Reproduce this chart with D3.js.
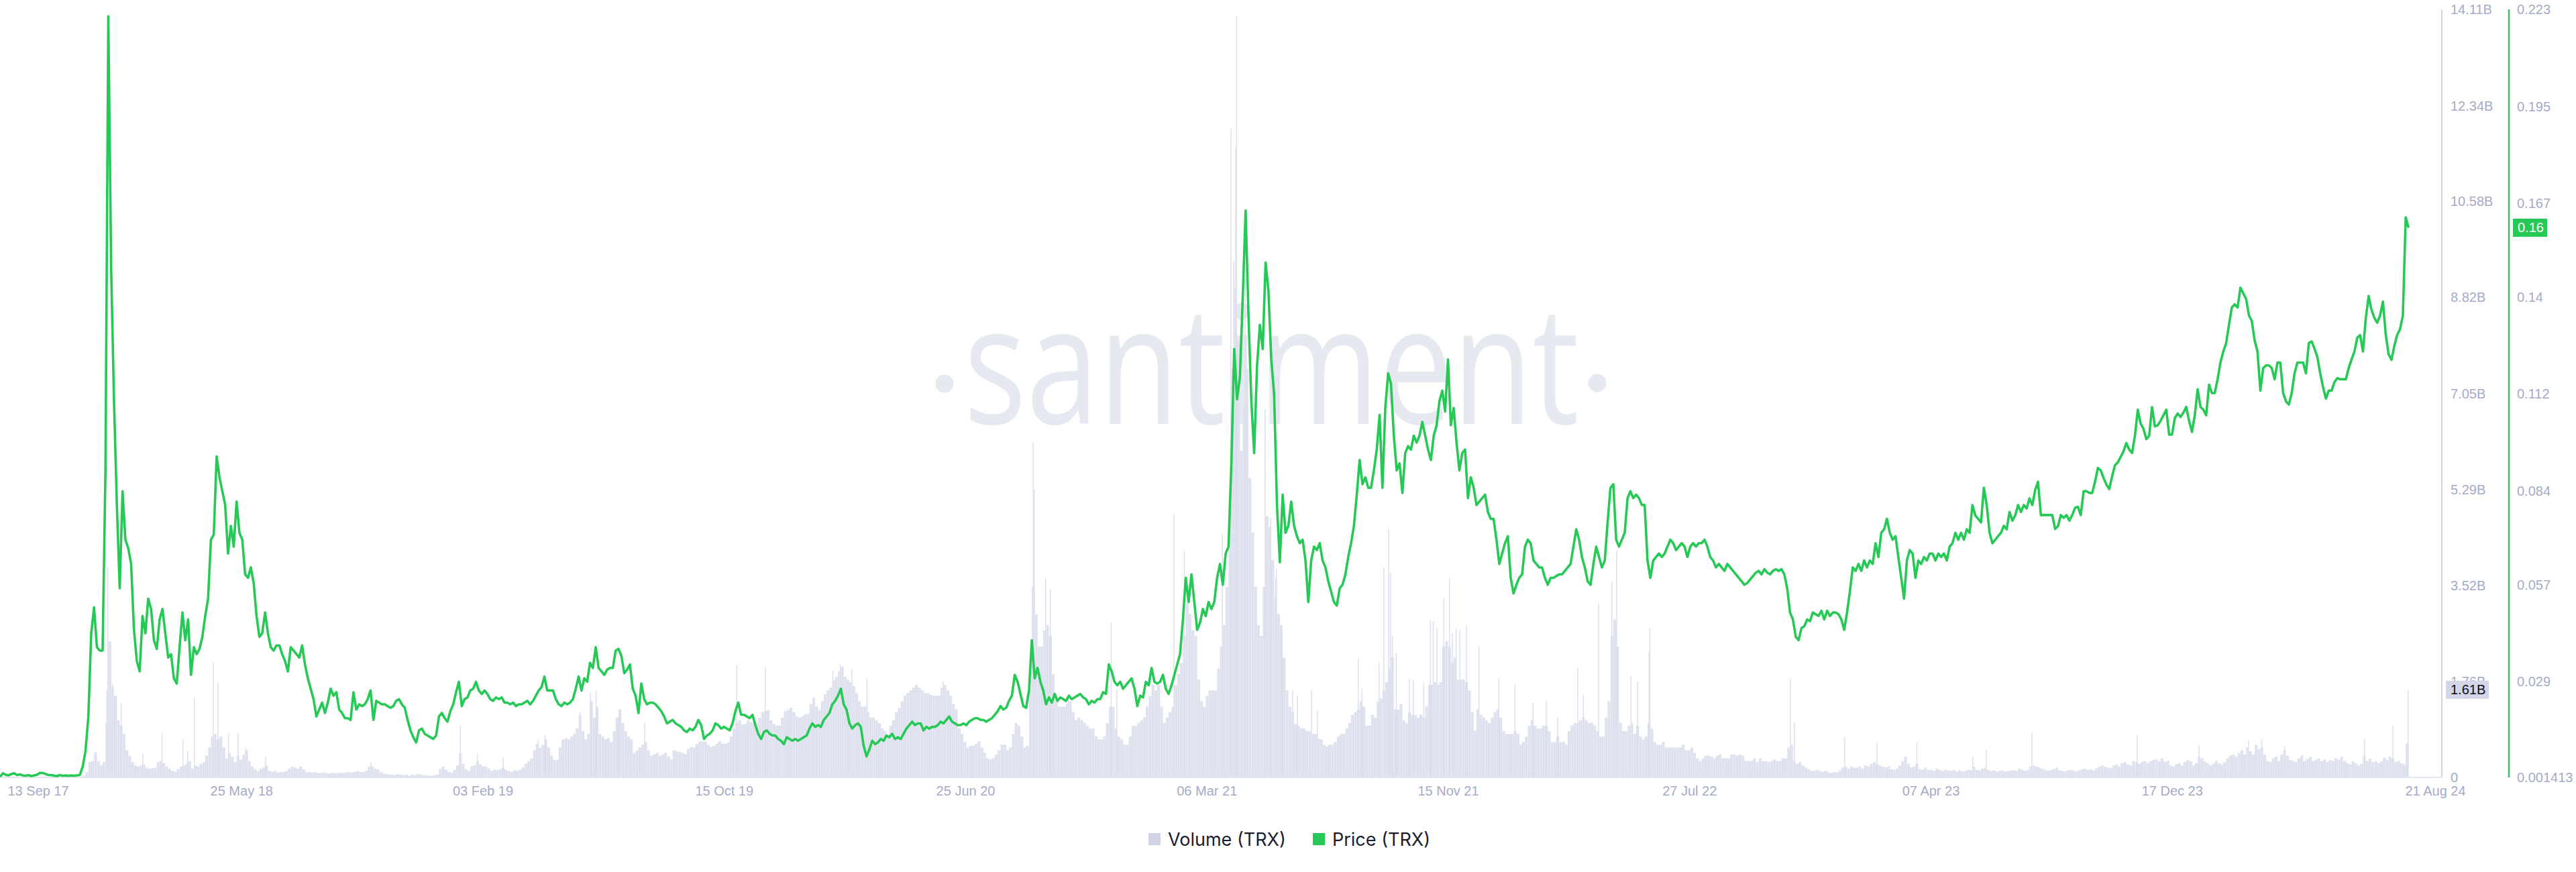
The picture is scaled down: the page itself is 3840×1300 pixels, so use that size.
<!DOCTYPE html>
<html lang="en">
<head>
<meta charset="UTF-8">
<title>TRX price and volume</title>
<style>
    html, body { margin: 0; padding: 0; background: #fff; }
    svg { display: block; }
    .axis text { font-family: "Liberation Sans", sans-serif; font-size: 20px; fill: #a5abc7; }
    .legend text { font-family: Inter, sans-serif; font-size: 27px; fill: #1b1d2e; }
</style>
</head>
<body>
<svg id="chart" width="3840" height="1300"></svg>
<script src="https://cdn.jsdelivr.net/npm/d3@7/dist/d3.min.js"></script>
<script>
// every value below
var startDate = "2017-09-13";
var endDate = "2024-08-21";
var dateTicks = ["2017-09-13", "2018-05-25", "2019-02-03", "2019-10-15", "2020-06-25", "2021-03-06", "2021-11-15", "2022-07-27", "2023-04-07", "2023-12-17", "2024-08-21"];
var volumeTicks = [0, 1.76, 3.52, 5.29, 7.05, 8.82, 10.58, 12.34, 14.11];
var priceTicks = [0.001413, 0.029, 0.057, 0.084, 0.112, 0.14, 0.167, 0.195, 0.223];
var lastVolume = 1.61;
var lastPrice = 0.16;
var seriesNames = ["Volume (TRX)", "Price (TRX)"];

// one price every 3 days, USD
var priceValues = [
0.0016,0.0026,0.0022,0.0020,0.0024,0.0026,0.0021,0.0023,0.0020,0.0019,0.0021,0.0018,0.0020,0.0022,0.0027,0.0027,0.0024,0.0021,0.0021,0.0019,0.0018,0.0021,0.0019,0.0020,0.0019,0.0020,0.0019,0.0020,
0.0021,0.0045,0.0090,0.0190,0.0430,0.0505,0.0390,0.0380,0.0380,0.0900,0.2210,0.1480,0.1100,0.0800,0.0560,0.0840,0.0700,0.0675,0.0630,0.0440,0.0350,0.0320,0.0480,0.0430,0.0530,0.0500,0.0410,0.0385,0.0470,0.0500,0.0430,0.0360,0.0370,0.0300,0.0285,0.0390,0.0490,0.0410,0.0470,0.0310,0.0390,0.0370,0.0385,0.0420,0.0480,0.0530,0.0700,0.0715,0.0940,0.0880,0.0840,0.0800,0.0660,0.0740,0.0680,0.0810,0.0720,0.0700,0.0600,0.0590,0.0620,0.0575,0.0480,0.0420,0.0430,0.0490,0.0430,0.0390,0.0380,0.0395,0.0395,0.0370,0.0350,0.0320,0.0390,0.0380,0.0370,0.0360,0.0395,0.0340,0.0300,0.0270,0.0240,0.0190,0.0210,0.0230,0.0200,0.0230,0.0270,0.0250,0.0260,0.0210,0.0200,0.0185,0.0185,0.0180,0.0260,0.0210,0.0225,0.0220,0.0225,0.0240,0.0265,0.0180,0.0235,0.0230,0.0225,0.0225,0.0220,0.0215,0.0220,0.0235,0.0240,0.0225,0.0215,0.0180,0.0150,0.0130,0.0115,0.0150,0.0155,0.0140,0.0135,0.0130,0.0125,0.0135,0.0190,0.0200,0.0185,0.0175,0.0205,0.0225,0.0260,0.0290,0.0220,0.0240,0.0245,0.0265,0.0270,0.0290,0.0265,0.0255,0.0265,0.0255,0.0240,0.0235,0.0245,0.0240,0.0245,0.0230,0.0230,0.0225,0.0230,0.0220,0.0225,0.0225,0.0230,0.0235,0.0225,0.0235,0.0250,0.0265,0.0275,0.0305,0.0265,0.0265,0.0265,0.0240,0.0225,0.0220,0.0230,0.0225,0.0230,0.0240,0.0270,0.0305,0.0265,0.0300,0.0290,0.0345,0.0330,0.0390,0.0330,0.0320,0.0310,0.0325,0.0330,0.0330,0.0380,0.0385,0.0365,0.0315,0.0325,0.0340,0.0270,0.0250,0.0200,0.0285,0.0240,0.0225,0.0230,0.0230,0.0225,0.0215,0.0205,0.0190,0.0170,0.0175,
0.0180,0.0170,0.0165,0.0160,0.0150,0.0145,0.0155,0.0150,0.0160,0.0180,0.0165,0.0125,0.0135,0.0140,0.0150,0.0170,0.0165,0.0155,0.0160,0.0155,0.0150,0.0170,0.0205,0.0230,0.0195,0.0195,0.0190,0.0185,0.0195,0.0165,0.0140,0.0125,0.0145,0.0150,0.0140,0.0135,0.0135,0.0125,0.0120,0.0110,0.0130,0.0125,0.0120,0.0125,0.0120,0.0125,0.0130,0.0135,0.0155,0.0170,0.0160,0.0165,0.0160,0.0180,0.0190,0.0200,0.0225,0.0235,0.0250,0.0270,0.0225,0.0210,0.0170,0.0155,0.0165,0.0170,0.0160,0.0105,0.0075,0.0095,0.0120,0.0110,0.0115,0.0125,0.0120,0.0135,0.0130,0.0140,0.0125,0.0130,0.0125,0.0140,0.0155,0.0165,0.0175,0.0165,0.0170,0.0170,0.0150,0.0160,0.0155,0.0160,0.0160,0.0165,0.0175,0.0170,0.0180,0.0190,0.0175,0.0170,0.0165,0.0165,0.0170,0.0165,0.0175,0.0180,0.0185,0.0185,0.0180,0.0180,0.0175,0.0180,0.0185,0.0195,0.0205,0.0220,0.0210,0.0215,0.0235,0.0250,0.0310,0.0290,0.0255,0.0220,0.0215,0.0265,0.0410,0.0300,0.0330,0.0290,0.0265,0.0225,0.0245,0.0230,0.0255,0.0235,0.0245,0.0240,0.0235,0.0250,0.0240,0.0245,0.0250,0.0255,0.0245,0.0240,0.0225,0.0235,0.0230,0.0240,0.0240,0.0260,0.0255,0.0340,0.0320,0.0290,0.0280,0.0290,0.0270,0.0280,0.0290,0.0300,0.0270,0.0220,0.0250,0.0245,0.0290,0.0280,0.0330,0.0290,0.0285,0.0290,0.0310,0.0270,0.0255,0.0280,0.0310,0.0340,0.0370,0.0470,0.0590,0.0520,0.0600,0.0520,0.0440,0.0460,0.0500,0.0480,0.0520,0.0500,0.0520,0.0590,0.0630,0.0570,0.0660,0.0680,0.0920,0.1250,0.1105,0.1170,0.1400,0.1650,0.1350,0.1100,0.0950,0.1200,0.1320,0.1250,0.1500,0.1420,0.1220,0.1120,0.0800,0.0635,0.0830,0.0720,0.0740,0.0810,0.0740,0.0710,0.0690,0.0700,0.0640,0.0520,0.0640,0.0680,0.0670,0.0690,0.0640,0.0620,0.0580,0.0550,0.0520,0.0510,0.0560,
0.0570,0.0600,0.0650,0.0690,0.0740,0.0830,0.0930,0.0860,0.0880,0.0850,0.0850,0.0900,0.0960,0.1060,0.0850,0.1080,0.1180,0.1150,0.1000,0.0900,0.0920,0.0835,0.0950,0.0970,0.0960,0.1000,0.0980,0.1000,0.1040,0.1000,0.0960,0.0930,0.1000,0.1030,0.1100,0.1130,0.1070,0.1220,0.1030,0.1080,0.0980,0.0900,0.0950,0.0960,0.0820,0.0880,0.0850,0.0800,0.0810,0.0820,0.0830,0.0780,0.0760,0.0760,0.0700,0.0630,0.0660,0.0690,0.0710,0.0590,0.0545,0.0570,0.0590,0.0600,0.0680,0.0700,0.0690,0.0640,0.0630,0.0620,0.0620,0.0590,0.0570,0.0590,0.0590,0.0595,0.0600,0.0600,0.0610,0.0620,0.0630,0.0680,0.0730,0.0700,0.0650,0.0620,0.0580,0.0570,0.0630,0.0680,0.0650,0.0620,0.0640,0.0750,0.0850,0.0860,0.0700,0.0680,0.0700,0.0720,0.0820,0.0840,0.0820,0.0830,0.0820,0.0800,0.0800,0.0640,0.0590,0.0640,0.0650,0.0660,0.0650,0.0660,0.0680,0.0700,0.0690,0.0670,0.0680,0.0690,0.0680,0.0650,0.0680,0.0690,0.0680,0.0690,0.0690,0.0700,0.0680,0.0650,0.0640,0.0620,0.0630,0.0620,0.0610,0.0630,0.0620,0.0610,0.0600,0.0590,0.0580,0.0570,0.0575,0.0585,0.0595,0.0605,0.0610,0.0600,0.0615,0.0605,0.0600,0.0610,0.0615,0.0610,0.0615,0.0600,0.0560,0.0490,0.0470,0.0420,0.0410,0.0445,0.0450,0.0470,0.0465,0.0490,0.0485,0.0480,0.0495,0.0470,0.0495,0.0480,0.0490,0.0490,0.0485,0.0470,0.0440,0.0490,0.0550,0.0620,0.0610,0.0630,0.0610,0.0640,0.0620,0.0640,0.0630,0.0690,0.0650,0.0720,0.0730,0.0760,0.0720,0.0700,0.0710,0.0650,0.0590,0.0530,0.0640,0.0670,0.0660,0.0590,0.0640,0.0630,0.0650,0.0640,0.0660,0.0660,0.0640,0.0660,0.0650,0.0660,0.0640,0.0680,0.0690,0.0720,0.0700,0.0720,0.0700,0.0730,0.0720,0.0800,0.0770,0.0760,0.0750,0.0850,0.0800,0.0720,0.0690,0.0700,0.0710,0.0720,0.0740,0.0730,0.0780,
0.0755,0.0770,0.0800,0.0780,0.0800,0.0790,0.0819,0.0800,0.0843,0.0867,0.0771,0.0771,0.0771,0.0771,0.0771,0.0731,0.0739,0.0771,0.0763,0.0771,0.0755,0.0771,0.0792,0.0795,0.0771,0.0840,0.0840,0.0835,0.0835,0.0867,0.0907,0.0900,0.0878,0.0859,0.0846,0.0883,0.0915,0.0923,0.0939,0.0955,0.0979,0.0960,0.0950,0.1000,0.1075,0.1035,0.1020,0.0990,0.1000,0.1083,0.1027,0.1030,0.1043,0.1059,0.1075,0.1003,0.1003,0.1051,0.1064,0.1054,0.1067,0.1083,0.1043,0.1011,0.1059,0.1134,0.1083,0.1075,0.1059,0.1147,0.1123,0.1123,0.1163,0.1211,0.1243,0.1267,0.1320,0.1370,0.1379,0.1370,0.1427,0.1411,0.1395,0.1347,0.1331,0.1275,0.1243,0.1130,0.1195,0.1203,0.1203,0.1195,0.1163,0.1211,0.1211,0.1123,0.1099,0.1090,0.1123,0.1180,0.1211,0.1211,0.1211,0.1180,0.1267,0.1272,0.1251,0.1227,0.1180,0.1140,0.1107,0.1130,0.1130,0.1155,0.1166,0.1163,0.1163,0.1163,0.1195,0.1220,0.1243,0.1283,0.1290,0.1243,0.1340,0.1403,0.1363,0.1340,0.1326,0.1347,0.1387,0.1291,0.1235,0.1219,0.1259,0.1291,0.1307,0.1347,0.1630,0.1600
];

// one volume level every 3 days, billions
var volumeValues = [
0.01,0.01,0.01,0.01,0.01,0.01,0.01,0.01,0.01,0.01,0.01,0.01,0.01,0.01,0.01,0.01,0.01,0.01,0.01,0.01,0.01,0.01,0.01,0.01,0.01,0.01,0.01,0.01,0.01,
0.03,0.1,0.28,0.3,0.46,0.3,0.22,0.28,1.0,2.5,1.65,1.5,1.05,0.95,0.8,0.5,0.4,0.28,0.22,0.2,0.22,0.24,0.18,0.16,0.17,0.18,0.28,0.3,0.26,0.2,0.16,0.12,0.1,0.15,0.2,0.22,0.25,0.3,0.16,0.22,0.2,0.25,0.28,0.4,0.55,0.75,0.8,0.7,0.75,0.55,0.35,0.45,0.38,0.28,0.4,0.33,0.42,0.5,0.3,0.2,0.15,0.12,0.16,0.18,0.22,0.12,0.1,0.12,0.09,0.1,0.1,0.12,0.16,0.2,0.18,0.16,0.2,0.15,0.1,0.1,
0.09,0.1,0.08,0.08,0.09,0.08,0.07,0.09,0.08,0.08,0.09,0.08,0.09,0.1,0.09,0.1,0.12,0.1,0.1,0.12,0.2,0.2,0.16,0.15,0.1,0.07,0.06,0.05,0.05,0.04,0.06,0.05,0.04,0.05,0.03,0.05,0.04,0.06,0.05,0.04,0.04,0.03,0.03,0.04,0.05,0.16,0.2,0.14,0.1,0.09,0.14,0.22,0.45,0.25,0.15,0.12,0.2,0.22,0.3,0.24,0.2,0.2,0.16,0.12,0.14,0.13,0.15,0.18,0.14,0.12,0.1,0.13,0.12,0.14,0.18,0.25,0.3,0.35,0.5,0.62,0.55,0.6,0.7,0.55,0.4,0.32,0.32,0.55,0.7,0.72,0.7,0.75,0.8,0.9,1.15,0.85,0.7,0.8,1.4,1.1,1.3,0.8,0.75,0.7,0.72,0.65,0.85,1.1,1.25,1.0,0.85,0.75,0.7,0.45,0.5,0.55,0.6,0.65,0.5,0.4,0.42,0.45,0.4,0.42,0.45,0.38,0.33,
0.5,0.48,0.47,0.45,0.43,0.52,0.56,0.55,0.62,0.66,
0.66,0.66,0.6,0.56,0.58,0.62,0.66,0.62,0.62,0.64,
0.75,0.9,1.0,1.05,0.97,0.98,1.05,1.02,1.0,0.97,
1.1,1.2,1.22,1.24,1.05,0.98,0.95,0.95,1.1,1.22,
1.24,1.28,1.2,1.12,1.1,1.12,1.16,1.17,1.35,1.47,
1.3,1.24,1.4,1.53,1.6,1.65,1.78,1.85,1.95,2.03,
1.85,1.8,1.75,1.68,1.55,1.4,1.3,1.3,1.2,1.1,
1.1,1.05,1.0,0.9,0.85,0.75,0.95,1.05,1.2,1.28,
1.4,1.5,1.55,1.6,1.65,1.7,1.65,1.6,1.55,1.55,
1.52,1.5,1.5,1.5,1.65,1.7,1.6,1.5,1.35,1.25,
0.9,0.8,0.65,0.55,0.58,0.58,0.62,0.66,0.55,0.45,
0.35,0.33,0.35,0.42,0.5,0.6,0.6,0.5,0.55,0.8,
1.0,0.95,0.75,0.55,0.58,1.8,3.5,3.0,2.4,2.4,
2.7,2.8,2.6,1.9,1.5,1.3,1.3,1.3,1.35,1.4,
1.2,1.05,1.1,1.05,1.0,0.95,0.9,0.9,0.75,0.7,
0.7,0.75,1.0,1.3,1.3,0.9,0.75,0.7,0.6,0.6,
0.75,0.95,0.95,1.0,1.05,
1.1,1.3,1.5,1.7,1.6,1.7,1.3,1.0,1.1,1.2,1.3,1.7,1.9,2.1,2.6,3.2,3.0,2.7,2.6,1.8,1.4,1.3,1.5,1.6,1.6,1.6,2.0,2.4,2.8,3.5,5.0,7.5,9.0,8.0,6.0,6.8,7.5,5.5,4.5,3.5,2.8,2.6,3.5,4.8,4.6,4.0,3.3,
3.0,2.8,2.2,1.6,1.3,1.2,0.98,0.95,0.9,0.9,0.85,0.85,0.8,0.8,0.72,0.7,0.6,0.57,0.6,0.6,0.65,0.75,0.8,
0.8,0.9,1.0,1.15,1.2,1.25,1.4,1.3,0.95,0.95,
1.15,1.1,1.4,1.45,1.6,1.75,2.0,2.2,1.25,1.25,
1.35,1.05,1.0,1.2,1.15,1.15,1.1,1.15,1.1,1.3,
1.7,1.7,1.75,1.7,1.75,2.4,2.5,2.4,2.1,2.2,
1.8,1.8,1.8,1.75,1.6,1.2,0.86,1.25,1.15,1.1,
1.05,1.0,1.1,1.2,1.25,1.1,0.85,0.8,0.8,0.8,
0.85,0.8,0.6,0.65,0.75,0.95,1.05,0.95,0.9,0.9,
0.95,0.95,0.85,0.65,0.65,0.75,0.65,0.65,0.6,0.85,
0.95,1.0,1.0,1.05,1.1,1.05,1.0,1.0,0.95,0.85,
0.75,0.75,1.1,1.4,2.6,2.9,2.4,1.0,0.85,0.85,
0.95,1.0,0.8,0.95,0.75,0.7,0.75,1.0,0.9,0.65,
0.6,0.6,0.65,0.55,0.55,0.55,0.55,0.55,0.55,0.6,
0.5,0.5,0.55,0.45,0.35,0.3,0.35,0.4,0.4,0.38,
0.35,0.4,0.42,0.35,0.35,0.35,0.42,0.42,0.4,0.42,
0.4,
0.3,0.3,0.3,0.35,0.28,0.35,0.3,0.3,0.28,0.3,0.33,0.3,0.3,0.35,0.35,0.55,0.6,0.3,0.25,0.28,0.22,0.18,0.15,0.12,0.12,0.14,0.12,0.1,0.12,0.09,0.08,0.1,0.09,0.13,0.18,0.2,0.16,0.2,0.18,0.18,0.2,0.16,0.22,0.2,0.25,0.28,0.25,0.22,0.2,0.18,0.2,0.15,0.14,0.16,0.22,0.3,0.38,0.25,0.18,0.2,0.25,0.15,0.14,0.18,0.14,0.14,0.12,0.16,0.14,0.12,0.14,0.13,0.12,0.14,0.11,0.13,0.11,0.12,0.14,0.13,0.2,0.14,0.13,0.16,0.18,0.14,0.12,0.13,0.11,0.12,0.13,0.11,0.12,0.13,
0.13,0.12,0.16,0.14,0.12,0.14,0.2,0.22,0.2,0.18,0.16,0.14,0.12,0.13,0.15,0.18,0.13,0.12,0.11,0.13,0.14,0.12,0.11,0.13,0.15,0.16,0.14,0.15,0.13,0.17,0.2,0.22,0.2,0.18,0.17,0.22,0.24,0.2,0.26,0.28,0.24,0.22,0.3,0.28,0.25,0.28,0.3,0.26,0.3,0.32,0.33,0.3,0.35,0.28,0.3,0.22,0.2,0.24,0.26,0.22,0.28,0.32,0.3,0.22,0.26,0.38,0.35,0.3,0.26,0.22,0.25,0.3,0.26,0.24,0.28,0.35,0.4,0.42,0.38,0.45,0.5,0.42,0.55,0.48,0.42,0.6,0.52,0.55,0.42,0.3,0.28,0.35,0.38,0.3,0.42,0.5,0.4,0.32,0.3,0.28,0.35,0.4,0.3,0.34,0.38,0.3,0.32,0.35,0.3,0.33,0.28,0.32,0.3,0.36,0.33,0.38,0.3,0.26,0.24,0.3,0.26,0.22,0.25,0.4,0.3,0.34,0.28,0.3,0.26,0.3,0.36,0.32,0.38,0.35,0.28,0.3,0.26,0.24,0.6
];

// single-day volume spikes that stand above the level: days since start, billions
var spikeDays = [112,113,116,118,127,150,170,192,197,204,224,229,240,250,258,279,390,484,502,529,566,573,610,621,627,651,678,775,805,876,884,896,912,992,1087,1088,1100,1105,1124,1169,1175,1235,1246,1286,1295,1298,1300,1301,1310,1331,1337,1342,1343,1349,1360,1365,1380,1386,1429,1433,1451,1456,1461,1463,1465,1469,1483,1487,1498,1505,1508,1512,1519,1525,1528,1532,1536,1543,1556,1577,1594,1613,1627,1639,1660,1666,1682,1696,1701,1716,1723,1735,1736,1884,1888,1941,1975,2017,2076,2090,2138,2249,2314,2366,2380,2404,2488,2518,2533,2534];
var spikeValues = [1.61,3.86,1.71,1.71,1.36,0.44,0.82,0.69,0.49,1.46,2.12,1.74,0.82,0.8,0.54,0.39,0.28,0.95,0.44,0.37,0.69,0.77,1.2,1.56,1.58,1.25,1.0,2.07,2.02,1.96,2.07,1.98,1.82,1.77,6.16,5.29,3.66,3.45,1.45,2.84,1.61,4.83,4.17,4.47,11.93,9.48,11.58,13.98,9.17,6.77,4.78,3.67,3.84,2.64,1.6,1.5,1.61,1.23,2.17,1.63,2.1,3.86,4.58,3.76,2.6,2.29,1.81,1.79,1.75,2.89,2.87,2.74,3.3,3.66,2.64,2.74,2.72,2.79,2.41,1.82,1.71,1.36,1.41,1.1,2.02,1.52,3.2,3.6,4.17,1.87,1.77,2.3,2.74,1.82,1.0,0.74,0.64,0.64,0.39,0.51,0.82,0.77,0.59,0.69,0.69,0.57,0.71,0.95,0.64,1.61];

var dayStep = 3;
var parseDay = d3.utcParse("%Y-%m-%d");
var addDays = function (n) { return d3.utcDay.offset(parseDay(startDate), n); };

var svg = d3.select("#chart");

var plotLeft = 0, plotEnd = 3589, plotRight = 3640, priceAxisX = 3740, plotTop = 14, plotBottom = 1159;

var x = d3.scaleUtc().domain([parseDay(startDate), parseDay(endDate)]).range([plotLeft, plotEnd]);
var yVolume = d3.scaleLinear().domain([0, 14.11]).range([plotBottom, plotTop]);
var yPrice = d3.scaleLinear().domain([0.001413, 0.223]).range([plotBottom, plotTop]);
var dayWidth = x(addDays(1)) - x(addDays(0));

// watermark
var watermark = svg.append("g").attr("fill", "#e7e9f1");
watermark.append("text")
    .attr("x", 1437).attr("y", 632)
    .attr("textLength", 917).attr("lengthAdjust", "spacingAndGlyphs")
    .style("font-family", '"Open Sans", sans-serif')
    .style("font-weight", 400)
    .style("font-size", "245px")
    .text("santiment");
watermark.append("circle").attr("cx", 1408).attr("cy", 572).attr("r", 13.5);
watermark.append("circle").attr("cx", 2381).attr("cy", 571).attr("r", 13.5);

// faint daily stripes inside the volume bars
var stripes = svg.append("defs").append("pattern")
    .attr("id", "dailyStripes")
    .attr("patternUnits", "userSpaceOnUse")
    .attr("width", dayWidth * 2).attr("height", 10);
stripes.append("rect").attr("width", dayWidth * 2).attr("height", 10).attr("fill", "#e6e8f2");
stripes.append("rect").attr("width", dayWidth).attr("height", 10).attr("fill", "#d9dcea");

svg.append("g").selectAll("rect")
    .data(volumeValues)
    .enter().append("rect")
    .attr("x", function (d, i) { return x(addDays(i * dayStep)); })
    .attr("width", dayStep * dayWidth)
    .attr("y", function (d) { return yVolume(d); })
    .attr("height", function (d) { return plotBottom - yVolume(d); })
    .attr("fill", "url(#dailyStripes)");

svg.append("g").selectAll("rect")
    .data(spikeValues)
    .enter().append("rect")
    .attr("x", function (d, i) { return x(addDays(spikeDays[i])); })
    .attr("width", dayWidth)
    .attr("y", function (d) { return yVolume(d); })
    .attr("height", function (d) { return plotBottom - yVolume(d); })
    .attr("fill", "#dcdfec");

// frame: bottom and the two vertical axis lines
svg.append("line").attr("x1", plotLeft).attr("x2", plotRight).attr("y1", plotBottom).attr("y2", plotBottom)
    .attr("stroke", "#e3e5ee").attr("stroke-width", 2);
svg.append("line").attr("x1", plotRight).attr("x2", plotRight).attr("y1", plotTop).attr("y2", plotBottom)
    .attr("stroke", "#d3d5de").attr("stroke-width", 2);
svg.append("line").attr("x1", priceAxisX).attr("x2", priceAxisX).attr("y1", plotTop).attr("y2", plotBottom)
    .attr("stroke", "#3cbc64").attr("stroke-width", 2.5);

// price line
var priceLine = d3.line()
    .x(function (d, i) { return x(addDays(i * dayStep)); })
    .y(function (d) { return yPrice(d); });

svg.append("path")
    .datum(priceValues)
    .attr("d", priceLine)
    .attr("fill", "none")
    .attr("stroke", "#26c955")
    .attr("stroke-width", 3.6)
    .attr("stroke-linejoin", "round");

// axes
var xAxis = d3.axisBottom(x)
    .tickValues(dateTicks.map(parseDay))
    .tickFormat(d3.utcFormat("%d %b %y"))
    .tickSize(0).tickPadding(0);

var xG = svg.append("g").attr("class", "axis").attr("transform", "translate(0," + 1172 + ")").call(xAxis);
xG.select(".domain").remove();
xG.selectAll("text").attr("y", 0).attr("dy", "0.71em")
    .attr("text-anchor", function (d, i) { return (i === 0 || i === dateTicks.length - 1) ? "start" : "middle"; })
    .attr("x", function (d, i) { return i === 0 ? 11 : (i === dateTicks.length - 1 ? -4 : 0); });

var volumeAxis = d3.axisRight(yVolume)
    .tickValues(volumeTicks)
    .tickFormat(function (d) { return d === 0 ? "0" : d3.format(".2f")(d) + "B"; })
    .tickSize(0).tickPadding(13);
var vG = svg.append("g").attr("class", "axis").attr("transform", "translate(" + plotRight + ",0)").call(volumeAxis);
vG.select(".domain").remove();

var priceAxis = d3.axisRight(yPrice)
    .tickValues(priceTicks)
    .tickFormat(function (d) { return String(d); })
    .tickSize(0).tickPadding(12);
var pG = svg.append("g").attr("class", "axis").attr("transform", "translate(" + priceAxisX + ",0)").call(priceAxis);
pG.select(".domain").remove();

// current value tags
var tag = function (yPos, left, width, fill, color, label) {
    svg.append("rect").attr("x", left).attr("y", yPos - 13.5).attr("width", width).attr("height", 27).attr("fill", fill);
    svg.append("text").attr("x", left + 7).attr("y", yPos).attr("dy", "0.34em")
        .style("font-family", '"Liberation Sans", sans-serif').style("font-size", "20px").style("fill", color)
        .text(label);
};
tag(yVolume(lastVolume), 3646, 64, "#d2d6e8", "#0c0d14", lastVolume + "B");
tag(yPrice(lastPrice), 3746, 51, "#26c955", "#ffffff", String(lastPrice));

// legend
var legendColors = ["#d0d4e6", "#26c955"];
var legendX = [1712, 1957];
var legend = svg.append("g").attr("class", "legend");
seriesNames.forEach(function (name, i) {
    legend.append("rect").attr("x", legendX[i]).attr("y", 1242).attr("width", 18).attr("height", 18).attr("fill", legendColors[i]);
    legend.append("text").attr("x", legendX[i] + 29).attr("y", 1251).attr("dy", "0.36em").text(name);
});
</script>
</body>
</html>
